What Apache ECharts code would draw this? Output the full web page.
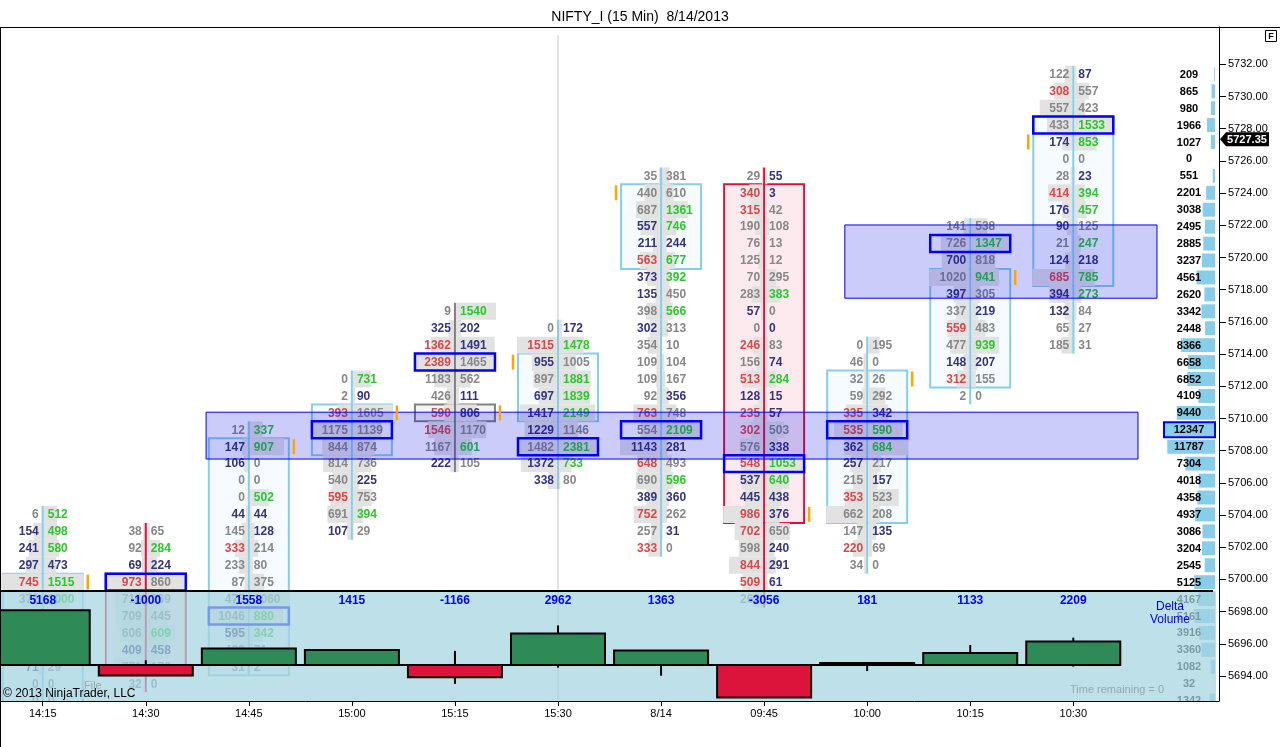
<!DOCTYPE html>
<html>
<head>
<meta charset="utf-8">
<title>NIFTY_I (15 Min) 8/14/2013</title>
<script src="https://cdn.jsdelivr.net/npm/echarts@6/dist/echarts.min.js"></script>
<style>
  html, body { margin: 0; padding: 0; background: #fff; }
  #chart { width: 1280px; height: 747px; }
</style>
</head>
<body>
<div id="chart"></div>
<script>
const timeLabels = ['14:15', '14:30', '14:45', '15:00', '15:15', '15:30', '8/14', '09:45', '10:00', '10:15', '10:30']
const priceTicks = [5694, 5696, 5698, 5700, 5702, 5704, 5706, 5708, 5710, 5712, 5714, 5716, 5718, 5720, 5722, 5724, 5726, 5728, 5730, 5732]

// footprint: first level of each bar (0 = top row), then bid x ask per level going down
// -1 = number hidden under the delta panel bars
const fpStart = [26, 27, 21, 18, 14, 15, 6, 6, 16, 9, 0]
const fpBid = [
  [6, 154, 241, 297, 745, 372, -1, -1, -1, 71, 0, 0],
  [38, 92, 69, 973, 716, 709, 606, 409, 771, 32],
  [12, 147, 106, 0, 0, 44, 145, 333, 233, 87, 475, 1046, 595, 429, 31],
  [0, 2, 393, 1175, 844, 814, 540, 595, 691, 107],
  [9, 325, 1362, 2389, 1183, 426, 590, 1546, 1167, 222],
  [0, 1515, 955, 897, 697, 1417, 1229, 1482, 1372, 338],
  [35, 440, 687, 557, 211, 563, 373, 135, 398, 302, 354, 109, 109, 92, 763, 554, 1143, 648, 690, 389, 752, 257, 333],
  [29, 340, 315, 190, 76, 125, 70, 283, 57, 0, 246, 156, 513, 128, 235, 302, 576, 548, 537, 445, 986, 702, 598, 844, 509, 263],
  [0, 46, 32, 59, 335, 535, 362, 257, 215, 353, 662, 147, 220, 34],
  [141, 726, 700, 1020, 397, 337, 559, 477, 148, 312, 2],
  [122, 308, 557, 433, 174, 0, 28, 414, 176, 90, 21, 124, 685, 394, 132, 65, 185]
]
const fpAsk = [
  [512, 498, 580, 473, 1515, 1000, -1, -1, -1, 29, 0, 0],
  [65, 284, 224, 860, 369, 445, 609, 458, 178, 0],
  [337, 907, 0, 0, 502, 44, 128, 214, 80, 375, 1060, 880, 342, 71, 2],
  [731, 90, 1605, 1139, 874, 736, 225, 753, 394, 29],
  [1540, 202, 1491, 1465, 562, 111, 806, 1170, 601, 105],
  [172, 1478, 1005, 1881, 1839, 2149, 1146, 2381, 733, 80],
  [381, 610, 1361, 746, 244, 677, 392, 450, 566, 313, 10, 104, 167, 356, 748, 2109, 281, 493, 596, 360, 262, 31, 0],
  [55, 3, 42, 108, 13, 12, 295, 383, 0, 0, 83, 74, 284, 15, 57, 503, 338, 1053, 640, 438, 376, 650, 240, 291, 61, -1],
  [195, 0, 26, 292, 342, 590, 684, 217, 157, 523, 208, 135, 69, 0],
  [538, 1347, 818, 941, 305, 219, 483, 939, 207, 155, 0],
  [87, 557, 423, 1533, 853, 0, 23, 394, 457, 125, 247, 218, 785, 273, 84, 27, 31]
]
// k grey, n navy, r red, g green
const fpBidCol = ['knnnrkkkknkk', 'kknrkkknkk', 'knnkknkrkkkknkk', 'kkrkkkkrkn', 'knrrkkrrkn', 'krnknnnknn',
  'kkknnrnnknkkkkrknrknrkr', 'krrkkkkknkrkrnrrkrnnrrkrrk', 'kkkkrrnnkrkkrk', 'kknknkrknrk', 'krkknkkrnnknrnnkk']
const fpAskCol = ['gggnggkkkkkk', 'kgnkkkgnkk', 'ggkkgnnkkkkggkk', 'gnkkkknkgk', 'gnnkknnkgk', 'ngkgggkggk',
  'kkggnggkgkkkknkgnkgnknk', 'nnkkkkkgknkngnnknggnnknnnk', 'kkkknggknkknkk', 'kgkgknkgnkk', 'nkkggknggkgnggkkk']

// candle bodies in levels, direction 1 up, -1 down, 0 doji
const bodyTop = [30, 30, 22, 20, 20, 17, 7, 7, 18, 12, 3]
const bodyBottom = [38, 35, 35, 22, 20, 20, 11, 26, 26, 18, 12]
const barDir = [1, -1, 1, 1, 0, 1, 1, -1, 1, 1, 1]
const pocRow = [-1, 30, 32, 21, 17, 22, 21, 23, 21, 10, 3]
// orange ticks: bar, level, side (-1 left, 1 right)
const edgeMarks = [[0, 30, 1], [2, 22, 1], [3, 20, 1], [4, 20, 1], [5, 17, -1], [6, 7, -1], [7, 26, 1], [8, 18, 1], [9, 12, 1], [10, 4, -1]]

// shaded zones: bar position from/to and price high/low
const zoneFrom = [1.585, 7.783]
const zoneTo = [10.628, 10.812]
const zoneHigh = [5710.39, 5722.02]
const zoneLow = [5707.48, 5717.47]

// volume profile per level, top to bottom
const profile = [209, 865, 980, 1966, 1027, 0, 551, 2201, 3038, 2495, 2885, 3237, 4561, 2620, 3342, 2448, 8366, 6658, 6852, 4109,
  9440, 12347, 11787, 7304, 4018, 4358, 4937, 3086, 3204, 2545, 5125, 4167, 5161, 3916, 3360, 1082, 32, 1342]

// delta volume candles
const delta = [5168, -1000, 1558, 1415, -1166, 2962, 1363, -3056, 181, 1133, 2209]
const deltaHigh = [5168, 450, 1558, 1415, 1330, 3730, 1363, 0, 181, 1890, 2580]
const deltaLow = [0, -1000, -100, 0, -1780, -250, -1010, -3056, -570, 0, -150]

const lastPrice = 5727.35

const FAMILY = '"Liberation Sans", Arial, sans-serif'
const FONT = 'bold 12px ' + FAMILY
const BOX = 40
const numColor = { k: '#878787', n: '#34347f', r: '#d94848', g: '#2ac82a' }
const bodyLine = { '-1': '#dc143c', '0': '#808080', '1': '#87ceeb' }
const bodyFill = { '-1': '#fdeaee', '0': '#f4f4f4', '1': '#f5fbfe' }

const cells = []
fpStart.forEach((start, c) => {
  const bidMax = Math.max(...fpBid[c])
  const askMax = Math.max(...fpAsk[c])
  fpBid[c].forEach((bid, k) => {
    cells.push({ col: c, row: start + k, bid, ask: fpAsk[c][k], bc: fpBidCol[c][k], ac: fpAskCol[c][k], bidMax, askMax })
  })
})
const maxVol = Math.max(...profile)
const timeTicks = timeLabels.map((t, i) => i)

function cellItem(params, api) {
  const d = cells[params.dataIndex]
  const p = api.coord([d.col, d.row])
  const h = api.size([0, 1])[1]
  const kids = []
  if (d.bid >= 0) {
    const w = BOX * d.bid / d.bidMax
    kids.push({ type: 'rect', z2: 0, shape: { x: p[0] - 1 - w, y: p[1] - h / 2, width: w, height: h }, style: { fill: '#e2e2e2' } })
    kids.push({ type: 'text', z2: 2, style: { x: p[0] - 4, y: p[1] + 0.5, text: String(d.bid), font: FONT, fill: numColor[d.bc], align: 'right', verticalAlign: 'middle' } })
  }
  if (d.ask >= 0) {
    const w = BOX * d.ask / d.askMax
    kids.push({ type: 'rect', z2: 0, shape: { x: p[0] + 1, y: p[1] - h / 2, width: w, height: h }, style: { fill: '#e2e2e2' } })
    kids.push({ type: 'text', z2: 2, style: { x: p[0] + 5, y: p[1] + 0.5, text: String(d.ask), font: FONT, fill: numColor[d.ac], align: 'left', verticalAlign: 'middle' } })
  }
  return { type: 'group', children: kids }
}

function bodyItem(params, api) {
  const c = api.value(0), dir = api.value(3)
  const p1 = api.coord([c, api.value(1) - 0.5])
  const p2 = api.coord([c, api.value(2) + 0.5])
  return { type: 'rect', shape: { x: p1[0] - BOX, y: p1[1], width: BOX * 2, height: p2[1] - p1[1] },
    style: { fill: bodyFill[dir], stroke: bodyLine[dir], lineWidth: 2 } }
}

function wickItem(params, api) {
  const c = api.value(0), dir = api.value(3)
  const p1 = api.coord([c, api.value(1) - 0.5])
  const p2 = api.coord([c, api.value(2) + 0.5])
  return { type: 'line', shape: { x1: p1[0], y1: p1[1], x2: p2[0], y2: p2[1] }, style: { stroke: bodyLine[dir], lineWidth: 2 } }
}

function pocItem(params, api) {
  const p = api.coord([api.value(0), api.value(1)])
  const h = api.size([0, 1])[1]
  return { type: 'rect', shape: { x: p[0] - BOX, y: p[1] - h / 2, width: BOX * 2, height: h }, style: { fill: 'none', stroke: '#0000ff', lineWidth: 2.5 } }
}

function markItem(params, api) {
  const p = api.coord([api.value(0), api.value(1)])
  const h = api.size([0, 1])[1]
  const x = p[0] + api.value(2) * 45
  return { type: 'line', shape: { x1: x, y1: p[1] - h / 2 + 1, x2: x, y2: p[1] + h / 2 - 1 }, style: { stroke: '#ffa500', lineWidth: 2.5 } }
}

function zoneItem(params, api) {
  const p1 = api.coord([api.value(0), api.value(2)])
  const p2 = api.coord([api.value(1), api.value(3)])
  return { type: 'rect', shape: { x: p1[0], y: p1[1], width: p2[0] - p1[0], height: p2[1] - p1[1] },
    style: { fill: 'rgba(0,0,235,0.2)', stroke: '#0000ff', lineWidth: 1 } }
}

function profileItem(params, api) {
  const cs = params.coordSys
  const r = api.value(1), v = api.value(2)
  const y = api.coord([0, r])[1]
  const h = api.size([0, 1])[1]
  const right = cs.x + cs.width - 4
  const w = 50 * v / maxVol
  const kids = [
    { type: 'rect', shape: { x: right - w, y: y - h / 2 + 1.5, width: w, height: h - 3 }, style: { fill: '#87ceeb' } },
    { type: 'text', style: { x: right - 26, y: y + 0.5, text: String(v), font: 'bold 11px ' + FAMILY, fill: '#000', align: 'center', verticalAlign: 'middle' } }
  ]
  if (v === maxVol) {
    kids.push({ type: 'rect', shape: { x: right - 51, y: y - h / 2 + 1, width: 51, height: h - 2 }, style: { fill: 'none', stroke: '#0000ff', lineWidth: 2 } })
  }
  return { type: 'group', children: kids }
}

function sessionItem(params, api) {
  const cs = params.coordSys
  const x = api.coord([api.value(0), 0])[0]
  return { type: 'line', shape: { x1: x, y1: cs.y + 8, x2: x, y2: cs.y + cs.height }, style: { stroke: '#c6c6c6', lineWidth: 1 } }
}

function tagItem(params, api) {
  const cs = params.coordSys
  const y = api.coord([0, api.value(1)])[1]
  const x0 = cs.x + cs.width + 1
  return { type: 'group', children: [
    { type: 'polygon', shape: { points: [[x0, y], [x0 + 6, y - 7], [x0 + 49, y - 7], [x0 + 49, y + 7], [x0 + 6, y + 7]] }, style: { fill: '#000' } },
    { type: 'text', style: { x: x0 + 27, y: y + 0.5, text: api.value(1).toFixed(2), font: 'bold 11px ' + FAMILY, fill: '#fff', align: 'center', verticalAlign: 'middle' } }
  ] }
}

function panelItem(params) {
  const cs = params.coordSys
  return { type: 'group', children: [
    { type: 'rect', shape: { x: cs.x, y: cs.y, width: cs.width - 3, height: cs.height }, style: { fill: 'rgba(165,212,225,0.72)' } },
    { type: 'line', shape: { x1: cs.x, y1: cs.y, x2: cs.x + cs.width - 6, y2: cs.y }, style: { stroke: '#000', lineWidth: 2 } }
  ] }
}

function candleItem(params, api) {
  const i = api.value(0)
  const p0 = api.coord([i, 0])
  const pc = api.coord([i, api.value(1)])
  const pl = api.coord([i, api.value(2)])
  const ph = api.coord([i, api.value(3)])
  const up = api.value(1) >= 0
  const kids = [
    { type: 'line', shape: { x1: p0[0], y1: pl[1], x2: p0[0], y2: ph[1] }, style: { stroke: '#000', lineWidth: 2 } },
    { type: 'rect', shape: { x: p0[0] - 47, y: Math.min(p0[1], pc[1]), width: 94, height: Math.abs(pc[1] - p0[1]) },
      style: { fill: up ? '#2e8b57' : '#dc143c', stroke: '#000', lineWidth: 2 } }
  ]
  if (i === delta.length - 1) {
    const pe = api.coord([-0.5, 0])
    kids.unshift({ type: 'line', shape: { x1: pe[0], y1: p0[1], x2: p0[0] + 47, y2: p0[1] }, style: { stroke: '#000', lineWidth: 2 } })
  }
  return { type: 'group', children: kids }
}

function deltaLabelItem(params, api) {
  const cs = params.coordSys
  const x = api.coord([api.value(0), 0])[0]
  return { type: 'text', style: { x, y: cs.y + 10, text: String(api.value(1)), font: 'bold 12px ' + FAMILY, fill: '#0000ff', align: 'center', verticalAlign: 'middle' } }
}

const chart = echarts.init(document.getElementById('chart'))
const X_MIN = -0.405, X_MAX = 11.414

chart.setOption({
  animation: false,
  backgroundColor: '#ffffff',
  textStyle: { fontFamily: FAMILY },
  title: { text: 'NIFTY_I (15 Min)  8/14/2013', left: 'center', top: 5, textStyle: { fontSize: 14, fontWeight: 'normal', color: '#000', fontFamily: FAMILY } },
  grid: [
    { left: 1, right: 61, top: 27, bottom: 46, show: false, containLabel: false, outerBoundsMode: 'none' },
    { left: 1, right: 61, top: 591, bottom: 46, show: false, containLabel: false, outerBoundsMode: 'none' }
  ],
  xAxis: [
    { type: 'value', gridIndex: 0, min: X_MIN, max: X_MAX,
      axisLine: { show: true, onZero: false, lineStyle: { color: '#000', width: 1 } },
      axisTick: { show: true, customValues: timeTicks, length: 5, lineStyle: { color: '#000' } },
      axisLabel: { customValues: timeTicks, formatter: v => timeLabels[Math.round(v)], color: '#000', fontSize: 11, margin: 7, fontFamily: FAMILY },
      splitLine: { show: false } },
    { type: 'value', gridIndex: 1, min: X_MIN, max: X_MAX, show: false }
  ],
  yAxis: [
    { type: 'value', gridIndex: 0, position: 'right', min: 5692.45, max: 5734.317,
      axisLine: { show: true, onZero: false, lineStyle: { color: '#000', width: 1 } },
      axisTick: { show: true, customValues: priceTicks, length: 7, lineStyle: { color: '#000' } },
      axisLabel: { customValues: priceTicks, formatter: v => v.toFixed(2), color: '#000', fontSize: 11, margin: 9, fontFamily: FAMILY },
      splitLine: { show: false } },
    { type: 'value', gridIndex: 0, inverse: true, min: -2.794, max: 37.02, show: false },
    { type: 'value', gridIndex: 1, min: -3396, max: 6981, show: false }
  ],
  series: [
    { type: 'custom', xAxisIndex: 0, yAxisIndex: 0, z: 1, clip: true, renderItem: sessionItem, data: [[5, 5700]] },
    { type: 'custom', xAxisIndex: 0, yAxisIndex: 1, z: 1, clip: true, renderItem: bodyItem,
      data: bodyTop.map((t, i) => [i, t, bodyBottom[i], barDir[i]]) },
    { type: 'custom', xAxisIndex: 0, yAxisIndex: 1, z: 2, clip: true, renderItem: cellItem,
      data: cells.map(d => [d.col, d.row]) },
    { type: 'custom', xAxisIndex: 0, yAxisIndex: 1, z: 3, clip: true, renderItem: wickItem,
      data: fpStart.map((s, i) => [i, s, s + fpBid[i].length - 1, barDir[i]]) },
    { type: 'custom', xAxisIndex: 0, yAxisIndex: 1, z: 2, clip: true, renderItem: profileItem,
      data: profile.map((v, r) => [11, r, v]) },
    { type: 'custom', xAxisIndex: 0, yAxisIndex: 0, z: 4, clip: true, renderItem: zoneItem,
      data: zoneFrom.map((f, i) => [f, zoneTo[i], zoneHigh[i], zoneLow[i]]) },
    { type: 'custom', xAxisIndex: 0, yAxisIndex: 1, z: 5, clip: true, renderItem: pocItem,
      data: pocRow.map((r, i) => [i, r]).filter(d => d[1] >= 0) },
    { type: 'custom', xAxisIndex: 0, yAxisIndex: 1, z: 5, clip: true, renderItem: markItem, data: edgeMarks },
    { type: 'custom', xAxisIndex: 1, yAxisIndex: 2, z: 10, clip: false, renderItem: panelItem, data: [[0, 0]] },
    { type: 'custom', xAxisIndex: 1, yAxisIndex: 2, z: 11, clip: true, renderItem: candleItem,
      data: delta.map((d, i) => [i, d, deltaLow[i], deltaHigh[i]]) },
    { type: 'custom', xAxisIndex: 1, yAxisIndex: 2, z: 12, clip: false, renderItem: deltaLabelItem,
      data: delta.map((d, i) => [i, d]) },
    { type: 'custom', xAxisIndex: 0, yAxisIndex: 0, z: 12, clip: false, renderItem: tagItem, data: [[0, lastPrice]] }
  ],
  graphic: [
    { type: 'line', z: 100, shape: { x1: 0, y1: 27.5, x2: 1280, y2: 27.5 }, style: { stroke: '#000', lineWidth: 1 } },
    { type: 'line', z: 100, shape: { x1: 0.5, y1: 27, x2: 0.5, y2: 747 }, style: { stroke: '#000', lineWidth: 1 } },
    { type: 'rect', z: 100, shape: { x: 1265.5, y: 30.5, width: 11, height: 11 }, style: { fill: '#fff', stroke: '#000', lineWidth: 1 } },
    { type: 'text', z: 100, x: 1271, y: 36.5, style: { text: 'F', font: 'bold 9px ' + FAMILY, fill: '#000', align: 'center', verticalAlign: 'middle' } },
    { type: 'text', z: 100, x: 3, y: 694, style: { text: '© 2013 NinjaTrader, LLC', font: '12px ' + FAMILY, fill: '#000', align: 'left', verticalAlign: 'middle' } },
    { type: 'text', z: 100, x: 84, y: 686, style: { text: 'File', font: '11px ' + FAMILY, fill: '#98a7ad', align: 'left', verticalAlign: 'middle' } },
    { type: 'text', z: 100, x: 1070, y: 690, style: { text: 'Time remaining = 0', font: '11px ' + FAMILY, fill: '#98a7ad', align: 'left', verticalAlign: 'middle' } },
    { type: 'text', z: 100, x: 1170, y: 607, style: { text: 'Delta', font: '12px ' + FAMILY, fill: '#0000ff', align: 'center', verticalAlign: 'middle' } },
    { type: 'text', z: 100, x: 1170, y: 620, style: { text: 'Volume', font: '12px ' + FAMILY, fill: '#0000ff', align: 'center', verticalAlign: 'middle' } }
  ]
})
</script>
</body>
</html>
